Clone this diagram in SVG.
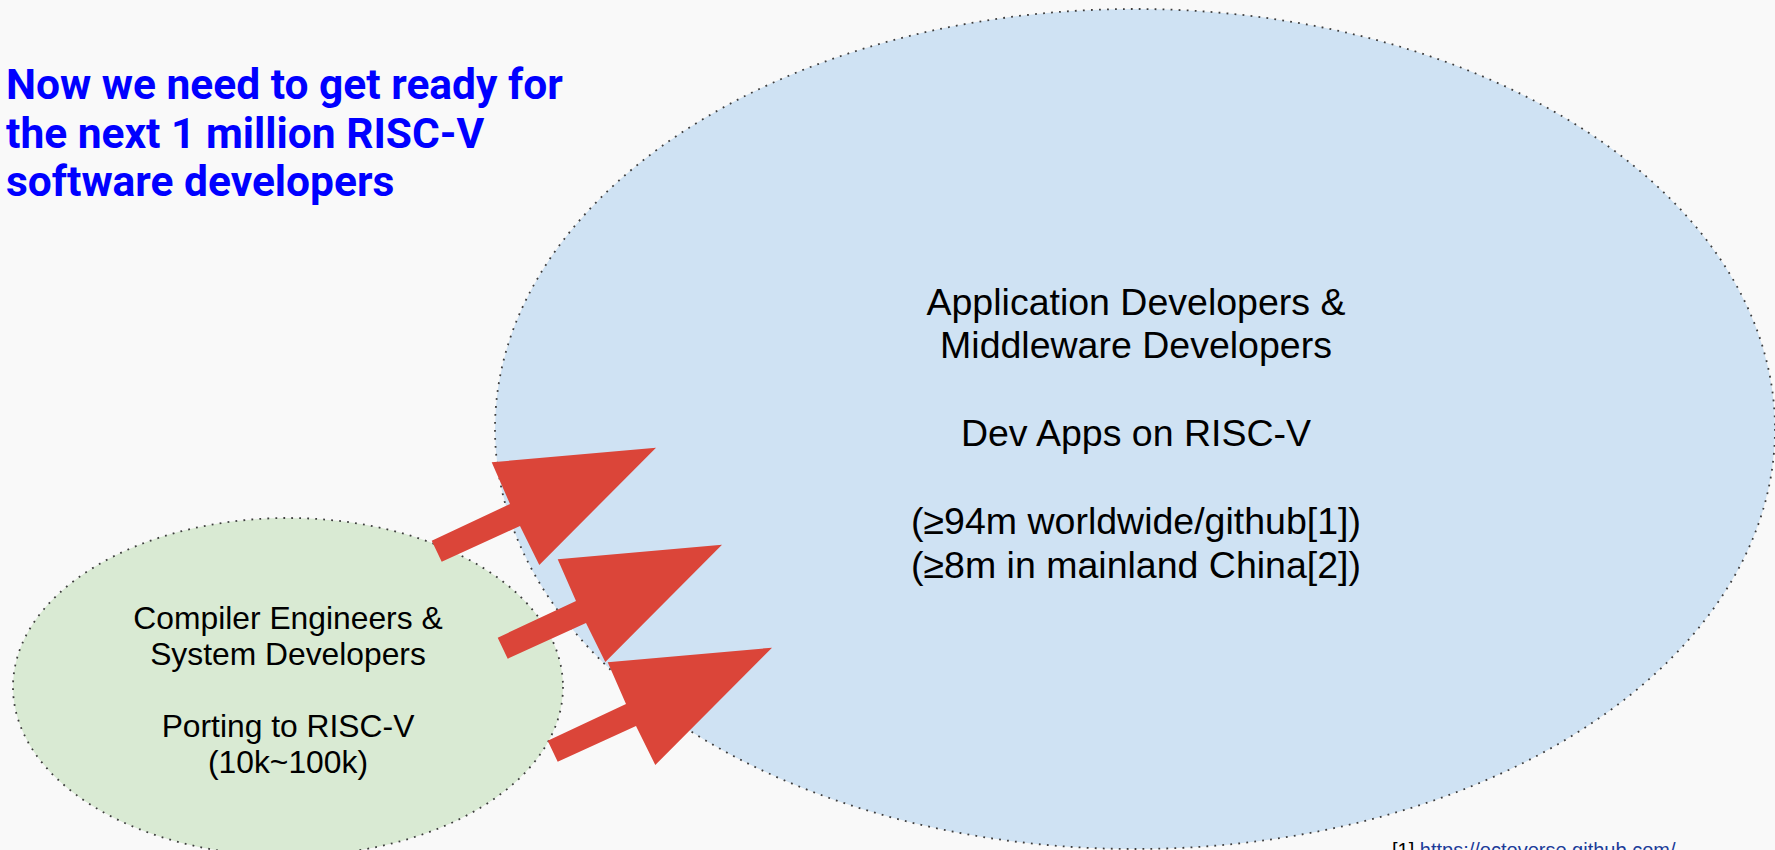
<svg xmlns="http://www.w3.org/2000/svg" width="1775" height="850" viewBox="0 0 1775 850">
  <style>
    .ell { stroke: #3d3d3d; stroke-width: 1.8; stroke-dasharray: 1.8 6.2; }
    .lbl { font-family: "Liberation Sans", Arial, sans-serif; fill: #000000; text-anchor: middle; }
    .big { font-size: 37.5px; }
    .small { font-size: 31.8px; }
    .title { font-family: Roboto, "Liberation Sans", sans-serif; font-weight: bold; font-size: 42.5px; fill: #0000ff; }
    .arrow { fill: #db4539; }
    .foot { font-family: "Liberation Sans", Arial, sans-serif; font-size: 20px; }
  </style>
  <defs>
    <polygon id="blockArrow" points="431.7,540.7 510,504 491.7,462.3 656,447.7 539.3,565 520,526 441.7,561.7"/>
  </defs>
  <rect x="0" y="0" width="1775" height="850" fill="#f9f9f9"/>

  <g id="title">
    <text class="title" x="6" y="99">Now we need to get ready for</text>
    <text class="title" x="6" y="148">the next 1 million RISC-V</text>
    <text class="title" x="6" y="196">software developers</text>
  </g>

  <g id="app-developers">
    <ellipse class="ell" cx="1135" cy="429" rx="640" ry="420" fill="#cfe2f3"/>
    <text class="lbl big" x="1136" y="315">Application Developers &amp;</text>
    <text class="lbl big" x="1136" y="358">Middleware Developers</text>
    <text class="lbl big" x="1136" y="446">Dev Apps on RISC-V</text>
    <text class="lbl big" x="1136" y="534">(≥94m worldwide/github[1])</text>
    <text class="lbl big" x="1136" y="578">(≥8m in mainland China[2])</text>
  </g>

  <g id="compiler-engineers">
    <ellipse class="ell" cx="288" cy="687" rx="275" ry="169" fill="#d9ead3"/>
    <text class="lbl small" x="288" y="629">Compiler Engineers &amp;</text>
    <text class="lbl small" x="288" y="665">System Developers</text>
    <text class="lbl small" x="288" y="737">Porting to RISC-V</text>
    <text class="lbl small" x="288" y="773">(10k~100k)</text>
  </g>

  <g id="connectors">
    <use href="#blockArrow" class="arrow"/>
    <use href="#blockArrow" class="arrow" transform="translate(66,97)"/>
    <use href="#blockArrow" class="arrow" transform="translate(116,200)"/>
  </g>

  <g id="footnote">
    <text class="foot" x="1392" y="857"><tspan fill="#000000">[1] </tspan><tspan fill="#1c3c99" text-decoration="underline">https://octoverse.github.com/</tspan></text>
  </g>
</svg>
